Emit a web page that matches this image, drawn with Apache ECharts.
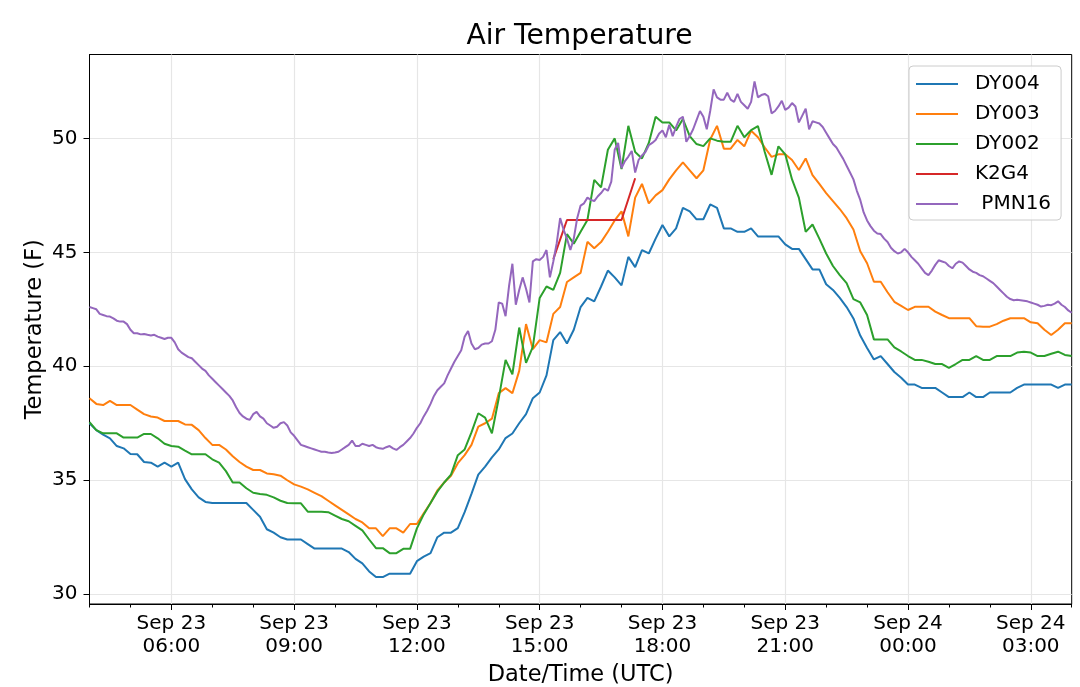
<!DOCTYPE html>
<html>
<head>
<meta charset="utf-8">
<title>Air Temperature</title>
<script src="https://cdn.jsdelivr.net/npm/echarts@6/dist/echarts.min.js"></script>
<style>
  html, body { margin: 0; padding: 0; background: #fff; }
  #chartData { width: 1080px; height: 687px; }
</style>
</head>
<body>
<div id="chartData"></div>
<script>
// x is hours after Sep 23 04:00 UTC
var dyStepMin = 10;   // DY stations report every 10 min
var pmnStepMin = 5;   // PMN16 resampled every 5 min

var seriesNames = ['DY004', 'DY003', 'DY002', 'K2G4', ' PMN16'];
var seriesColors = ['#1f77b4', '#ff7f0e', '#2ca02c', '#d62728', '#9467bd'];

var dy004 = [
    37.5, 37.2, 37.0, 36.84, 36.5, 36.4, 36.15, 36.14, 35.8, 35.77, 35.6, 35.77,
    35.6, 35.77, 35.05, 34.6, 34.25, 34.05, 34.0, 34.0, 34.0, 34.0, 34.0, 34.0,
    33.7, 33.4, 32.85, 32.7, 32.5, 32.4, 32.4, 32.4, 32.2, 32.0, 32.0, 32.0,
    32.0, 32.0, 31.85, 31.55, 31.35, 31.0, 30.75, 30.75, 30.9, 30.9, 30.9, 30.9,
    31.45, 31.65, 31.8, 32.5, 32.7, 32.7, 32.9, 33.6, 34.4, 35.25, 35.6, 36.0,
    36.35, 36.85, 37.05, 37.5, 37.9, 38.6, 38.85, 39.6, 41.15, 41.5, 41.0, 41.6,
    42.6, 43.0, 42.85, 43.5, 44.2, 43.9, 43.55, 44.8, 44.35, 45.1, 44.95, 45.6,
    46.2, 45.7, 46.05, 46.95, 46.8, 46.45, 46.45, 47.1, 46.95, 46.05, 46.05, 45.9,
    45.9, 46.05, 45.7, 45.7, 45.7, 45.7, 45.35, 45.15, 45.15, 44.7, 44.25, 44.25,
    43.6, 43.35, 43.0, 42.6, 42.1, 41.35, 40.8, 40.3, 40.45, 40.1, 39.75, 39.5,
    39.2, 39.2, 39.05, 39.05, 39.05, 38.85, 38.65, 38.65, 38.65, 38.85, 38.65, 38.65,
    38.85, 38.85, 38.85, 38.85, 39.05, 39.2, 39.2, 39.2, 39.2, 39.2, 39.05, 39.2, 39.2
];

var dy003 = [
    38.6, 38.35, 38.3, 38.48, 38.3, 38.3, 38.3, 38.1, 37.9, 37.8, 37.75, 37.6,
    37.6, 37.6, 37.45, 37.43, 37.2, 36.85, 36.55, 36.55, 36.35, 36.05, 35.8, 35.6,
    35.45, 35.45, 35.3, 35.26, 35.2, 35.0, 34.82, 34.72, 34.6, 34.45, 34.3, 34.1,
    33.9, 33.7, 33.5, 33.3, 33.15, 32.89, 32.89, 32.55, 32.89, 32.89, 32.7, 33.08,
    33.08, 33.55, 34.0, 34.55, 34.9, 35.2, 35.75, 36.1, 36.55, 37.35, 37.5, 37.7,
    38.82, 39.04, 38.82, 39.8, 41.85, 40.75, 41.15, 41.05, 42.3, 42.6, 43.7, 43.9,
    44.1, 45.46, 45.18, 45.45, 45.9, 46.4, 46.8, 45.7, 47.4, 48.0, 47.15, 47.5,
    47.73, 48.2, 48.6, 48.95, 48.6, 48.25, 48.6, 49.95, 50.55, 49.55, 49.55, 49.93,
    49.65, 50.33, 50.05, 49.6, 49.19, 49.3, 49.3, 49.05, 48.61, 49.12, 48.39, 48.0,
    47.6, 47.25, 46.9, 46.5, 46.0, 45.05, 44.52, 43.71, 43.71, 43.25, 42.83, 42.65,
    42.47, 42.61, 42.61, 42.61, 42.4, 42.25, 42.11, 42.11, 42.11, 42.11, 41.76, 41.74,
    41.74, 41.85, 42.0, 42.11, 42.11, 42.11, 41.93, 41.89, 41.6, 41.37, 41.6, 41.89, 41.89
];

var dy002 = [
    37.55, 37.2, 37.06, 37.06, 37.06, 36.87, 36.87, 36.87, 37.03, 37.03, 36.84, 36.6,
    36.5, 36.47, 36.3, 36.14, 36.14, 36.14, 35.92, 35.77, 35.4, 34.9, 34.9, 34.65,
    34.45, 34.4, 34.36, 34.25, 34.1, 34.0, 33.99, 33.99, 33.62, 33.62, 33.62, 33.6,
    33.45, 33.3, 33.2, 33.0, 32.8, 32.4, 32.02, 32.02, 31.8, 31.8, 31.99, 31.99,
    32.89, 33.5, 34.0, 34.5, 34.9, 35.25, 36.1, 36.35, 37.1, 37.94, 37.75, 37.06,
    38.6, 40.28, 39.65, 41.7, 40.15, 40.85, 43.0, 43.5, 43.35, 44.1, 45.8, 45.38,
    45.9, 46.42, 48.18, 47.85, 49.5, 50.0, 48.65, 50.55, 49.4, 49.12, 49.8, 50.95,
    50.7, 50.7, 50.35, 50.85, 50.1, 49.75, 49.66, 50.0, 49.9, 49.85, 49.85, 50.55,
    50.05, 50.36, 50.54, 49.4, 48.4, 49.65, 49.3, 48.2, 47.4, 45.9, 46.22, 45.6,
    44.95, 44.4, 44.0, 43.65, 42.95, 42.8, 42.25, 41.18, 41.18, 41.18, 40.83, 40.65,
    40.45, 40.28, 40.28, 40.2, 40.1, 40.1, 39.93, 40.1, 40.28, 40.28, 40.45, 40.28,
    40.28, 40.45, 40.45, 40.45, 40.6, 40.64, 40.6, 40.45, 40.45, 40.55, 40.64, 40.5, 40.45
];

// K2G4 only reported for a short while in the afternoon (Sep 23, UTC)
var k2g4Times = ['15:20', '15:40', '17:00', '17:20'];
var k2g4 = [44.7, 46.42, 46.42, 48.25];

var pmn16 = [
    42.6, 42.55, 42.5, 42.3, 42.25, 42.2, 42.18, 42.1, 42.0, 41.96, 41.96, 41.85,
    41.6, 41.45, 41.45, 41.4, 41.42, 41.38, 41.35, 41.38, 41.3, 41.25, 41.2, 41.25,
    41.25, 41.05, 40.75, 40.6, 40.5, 40.4, 40.35, 40.2, 40.05, 39.9, 39.8, 39.6,
    39.45, 39.3, 39.15, 39.0, 38.85, 38.7, 38.5, 38.2, 37.95, 37.8, 37.7, 37.65,
    37.9, 38.0, 37.8, 37.7, 37.5, 37.4, 37.3, 37.35, 37.5, 37.55, 37.4, 37.1,
    36.95, 36.75, 36.55, 36.5, 36.45, 36.4, 36.35, 36.3, 36.25, 36.25, 36.22, 36.2,
    36.22, 36.25, 36.35, 36.45, 36.55, 36.74, 36.5, 36.5, 36.6, 36.55, 36.5, 36.55,
    36.45, 36.4, 36.38, 36.45, 36.5, 36.4, 36.33, 36.45, 36.55, 36.7, 36.85, 37.05,
    37.3, 37.5, 37.8, 38.05, 38.35, 38.7, 38.95, 39.1, 39.25, 39.6, 39.9, 40.2,
    40.45, 40.7, 41.3, 41.55, 41.0, 40.75, 40.8, 40.95, 41.0, 41.0, 41.1, 41.6,
    42.8, 42.75, 42.2, 43.5, 44.5, 42.7, 43.35, 43.9, 43.4, 42.8, 44.6, 44.7,
    44.66, 44.8, 45.1, 43.9, 44.6, 45.4, 46.5, 46.0, 45.6, 45.1, 45.6, 46.5,
    47.05, 47.15, 47.4, 47.3, 47.25, 47.45, 47.6, 47.8, 47.7, 48.1, 49.5, 49.8,
    48.7, 49.0, 49.2, 49.45, 48.5, 49.05, 49.25, 49.4, 49.7, 49.8, 49.93, 50.2,
    50.35, 50.05, 50.6, 50.1, 50.5, 50.85, 50.95, 49.85, 50.1, 50.4, 50.8, 51.2,
    50.95, 50.4, 51.2, 52.15, 51.8, 51.7, 51.7, 52.0, 51.7, 51.6, 51.95, 51.6,
    51.45, 51.3, 51.6, 52.5, 51.8, 51.9, 51.95, 51.85, 51.1, 51.2, 51.4, 51.65,
    51.25, 51.35, 51.55, 51.4, 50.7, 51.0, 51.3, 50.4, 50.75, 50.7, 50.65, 50.5,
    50.25, 50.0, 49.75, 49.6, 49.35, 49.1, 48.8, 48.5, 48.2, 47.7, 47.3, 46.75,
    46.4, 46.15, 45.95, 45.83, 45.8, 45.6, 45.45, 45.2, 45.05, 44.95, 45.0, 45.15,
    45.0, 44.8, 44.65, 44.5, 44.3, 44.1, 44.0, 44.2, 44.45, 44.65, 44.6, 44.55,
    44.4, 44.3, 44.5, 44.6, 44.55, 44.4, 44.25, 44.15, 44.1, 44.0, 43.95, 43.85,
    43.75, 43.65, 43.5, 43.35, 43.2, 43.05, 42.95, 42.9, 42.92, 42.9, 42.88, 42.85,
    42.8, 42.75, 42.7, 42.62, 42.65, 42.7, 42.68, 42.75, 42.85, 42.7, 42.6, 42.45,
    42.35
];

// major ticks (hours after 04:00) and their labels
var majorTickHours = [2, 5, 8, 11, 14, 17, 20, 23];
var majorTickLabels = ['Sep 23\n06:00', 'Sep 23\n09:00', 'Sep 23\n12:00', 'Sep 23\n15:00',
                       'Sep 23\n18:00', 'Sep 23\n21:00', 'Sep 24\n00:00', 'Sep 24\n03:00'];
var minorTickHours = [0, 1, 2, 3, 4, 5, 6, 7, 8, 9, 10, 11, 12,
                      13, 14, 15, 16, 17, 18, 19, 20, 21, 22, 23, 24];
var yTicks = [30, 35, 40, 45, 50];

var yMin = 29.57, yMax = 53.68;
var fontName = 'DejaVu Sans';

function toPairs(stepMin, values) {
    return values.map(function (v, i) { return [i * stepMin / 60, v]; });
}
function clockToHours(s) {
    var p = s.split(':');
    return (+p[0] - 4) + (+p[1]) / 60;
}

var seriesData = [
    toPairs(dyStepMin, dy004),
    toPairs(dyStepMin, dy003),
    toPairs(dyStepMin, dy002),
    k2g4Times.map(function (t, i) { return [clockToHours(t), k2g4[i]]; }),
    toPairs(pmnStepMin, pmn16)
];

var myChart = echarts.init(document.getElementById('chartData'));

var option = {
    animation: false,
    backgroundColor: '#fff',
    title: {
        text: 'Air Temperature',
        left: 574.5,
        top: 18,
        textAlign: 'center',
        textStyle: { fontFamily: fontName, fontSize: 28.2, fontWeight: 'normal', color: '#000' }
    },
    legend: {
        orient: 'vertical',
        left: 909,
        top: 66,
        padding: [8, 10, 6, 7],
        itemWidth: 42,
        itemHeight: 2,
        itemGap: 10,
        icon: 'rect',
        data: seriesNames,
        textStyle: {
            fontFamily: fontName, fontSize: 20, color: '#000',
            lineHeight: 20, padding: [0, 0, 0, 12]
        },
        borderColor: '#cccccc',
        borderWidth: 1,
        borderRadius: 4,
        backgroundColor: 'rgba(255,255,255,0.8)'
    },
    grid: {
        left: 89.5, right: 8.3, top: 54.5, bottom: 83,
        outerBoundsMode: 'none',
        containLabel: false,
        show: true, borderColor: '#000', borderWidth: 1
    },
    xAxis: [{
        type: 'value',
        min: 0,
        max: 24,
        name: 'Date/Time (UTC)',
        nameLocation: 'middle',
        nameGap: 60,
        nameMoveOverlap: false,
        nameTextStyle: { fontFamily: fontName, fontSize: 22.5, color: '#000' },
        axisLine: { onZero: false, lineStyle: { color: '#000', width: 1 } },
        axisTick: { customValues: majorTickHours, length: 6, lineStyle: { color: '#000' } },
        axisLabel: {
            customValues: majorTickHours,
            margin: 8,
            fontFamily: fontName, fontSize: 20, lineHeight: 23, color: '#000',
            align: 'center',
            formatter: function (v) {
                var i = majorTickHours.indexOf(Math.round(v));
                return i >= 0 ? majorTickLabels[i] : '';
            }
        },
        splitLine: { show: true, lineStyle: { color: '#e6e6e6', width: 1.2 } }
    }, {
        // hourly minor ticks
        type: 'value',
        position: 'bottom',
        min: 0,
        max: 24,
        axisLine: { show: false, onZero: false },
        axisTick: { customValues: minorTickHours, length: 3.5, lineStyle: { color: '#000' } },
        axisLabel: { show: false },
        splitLine: { show: false }
    }],
    yAxis: {
        type: 'value',
        min: yMin,
        max: yMax,
        name: 'Temperature (F)',
        nameLocation: 'middle',
        nameGap: 43,
        nameMoveOverlap: false,
        nameTextStyle: { fontFamily: fontName, fontSize: 22.5, color: '#000' },
        axisLine: { show: true, lineStyle: { color: '#000', width: 1 } },
        axisTick: { show: true, customValues: yTicks, length: 6, lineStyle: { color: '#000' } },
        axisLabel: {
            customValues: yTicks,
            margin: 12,
            fontFamily: fontName, fontSize: 20, color: '#000',
            formatter: function (v) { return String(Math.round(v)); }
        },
        splitLine: { show: true, lineStyle: { color: '#e6e6e6', width: 1.2 } }
    },
    series: seriesNames.map(function (name, i) {
        return {
            name: name,
            type: 'line',
            data: seriesData[i],
            showSymbol: false,
            symbol: 'none',
            color: seriesColors[i],
            lineStyle: { color: seriesColors[i], width: 2 },
            z: 2 + i
        };
    })
};

myChart.setOption(option);
</script>
</body>
</html>
